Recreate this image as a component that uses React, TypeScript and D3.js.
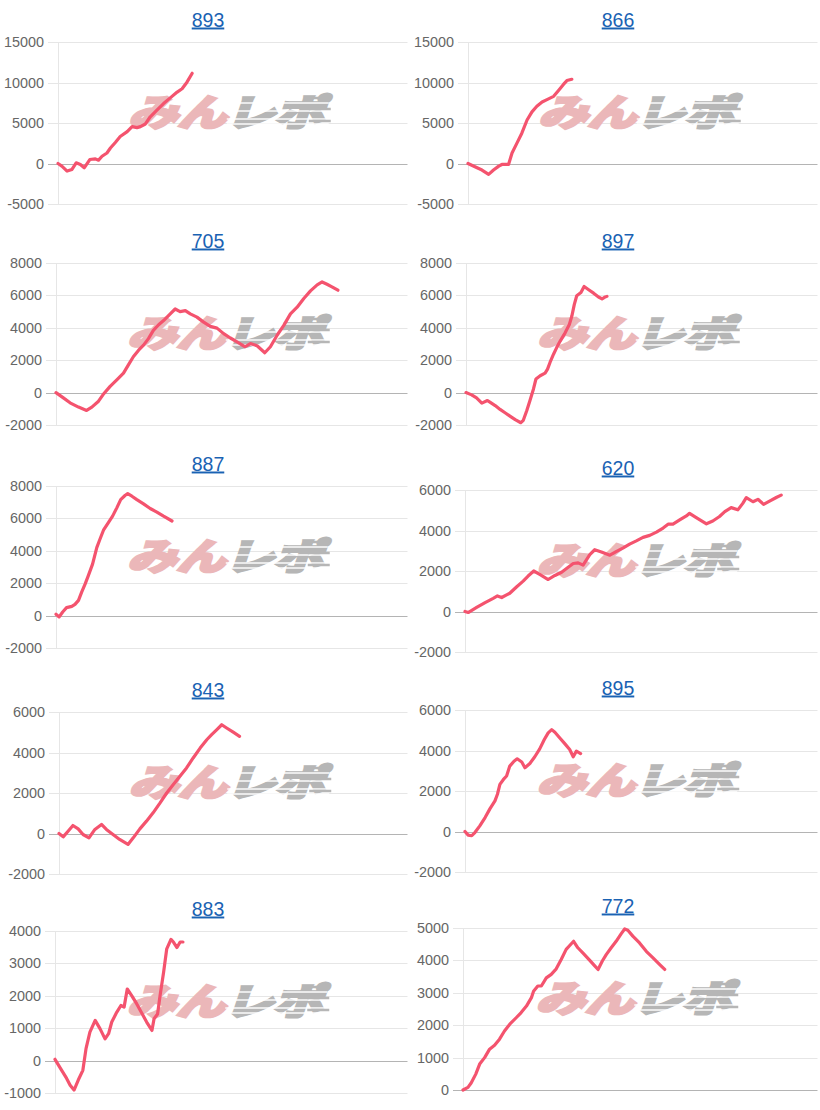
import React from "react";
import * as d3 from "d3";

// ---------- data (x = position along the game axis in %, y = 差枚) ----------
const titles = ["893", "866", "705", "897", "887", "620", "843", "895", "883", "772"];

const s893: [number, number][] = [[0,0],[1.1,-325],[2.6,-935],[4.0,-730],[5.2,80],[6.4,-120],[7.5,-530],[9.1,490],[10.7,570],[11.6,410],[12.6,890],[14.0,1300],[15.0,1910],[16.4,2600],[17.8,3330],[19.8,3940],[21.2,4550],[22.6,4430],[23.6,4550],[25.0,4880],[26.4,5770],[28.3,6590],[30.2,7400],[32.2,8130],[34.1,8820],[35.5,9230],[36.9,10040],[38.4,11140]];
const s866: [number, number][] = [[0,0],[2.6,-530],[4.0,-810],[5.9,-1340],[7.3,-810],[8.8,-325],[9.7,-120],[11.6,-120],[12.6,1300],[14.0,2520],[15.4,3740],[16.9,5370],[18.3,6380],[19.7,7070],[21.2,7600],[22.6,7890],[24.5,8290],[25.9,9020],[27.3,9760],[28.3,10240],[29.7,10400]];
const s705: [number, number][] = [[0,0],[2.1,-325],[4.0,-630],[6.4,-895],[8.7,-1100],[10.2,-895],[12.1,-530],[13.4,-120],[15.4,385],[17.3,790],[19.2,1200],[20.6,1710],[22.0,2215],[23.5,2620],[24.9,2930],[26.3,3330],[27.7,3840],[29.2,4190],[30.6,4450],[32.5,4860],[33.9,5160],[35.3,5000],[36.8,5060],[38.2,4860],[40.1,4660],[42.0,4350],[43.9,4090],[45.8,3980],[47.7,3640],[49.6,3370],[51.5,3130],[53.8,2830],[55.3,3030],[57.2,2890],[59.4,2460],[61.0,2830],[62.9,3540],[64.8,4150],[66.7,4860],[68.6,5270],[70.5,5810],[72.4,6280],[74.3,6650],[75.7,6830],[77.1,6690],[78.5,6530],[80.2,6320]];
const s897: [number, number][] = [[0,0],[1.6,-140],[3.0,-330],[4.5,-650],[6.1,-490],[6.8,-590],[8.3,-800],[9.7,-1040],[11.1,-1245],[12.5,-1450],[14.0,-1670],[15.6,-1860],[16.3,-1710],[17.3,-1100],[18.2,-490],[19.2,225],[19.9,840],[21.1,1040],[22.5,1200],[23.2,1450],[23.9,1860],[24.9,2370],[25.8,2780],[26.8,3180],[28.2,3690],[29.4,4200],[30.1,4710],[30.8,5430],[31.5,5980],[32.7,6180],[33.6,6550],[34.9,6350],[36.3,6140],[37.7,5900],[38.7,5780],[39.4,5880],[40.1,5940]];
const s887: [number, number][] = [[0,80],[0.9,-80],[1.9,225],[3.0,490],[4.5,570],[5.4,690],[6.4,940],[7.3,1450],[8.3,1960],[9.2,2470],[10.4,3180],[11.6,4200],[12.5,4710],[13.5,5270],[14.9,5740],[16.1,6140],[17.3,6650],[18.4,7160],[19.7,7430],[20.4,7530],[21.6,7370],[23.0,7160],[24.9,6900],[26.8,6610],[28.7,6390],[30.6,6140],[33.0,5840]];
const s620: [number, number][] = [[0,0],[0.9,-50],[3.3,200],[5.7,440],[8.0,650],[9.2,770],[10.4,690],[11.8,820],[12.7,900],[14.6,1210],[16.5,1500],[17.9,1750],[19.5,2000],[21.2,1830],[23.6,1580],[25.5,1780],[27.4,1940],[28.8,2120],[30.7,2370],[32.1,2400],[33.5,2290],[35.4,2810],[36.8,3050],[38.7,2940],[41.1,2780],[43.0,2970],[44.9,3140],[46.7,3330],[48.6,3490],[50.5,3660],[52.4,3760],[54.3,3920],[56.2,4120],[57.6,4310],[59.0,4310],[60.9,4520],[62.8,4720],[63.7,4850],[65.6,4640],[68.5,4330],[70.3,4470],[72.2,4690],[73.7,4930],[75.5,5130],[77.4,5020],[78.8,5340],[79.8,5620],[81.7,5420],[83.1,5540],[84.7,5290],[86.4,5450],[88.3,5630],[89.7,5750]];
const s843: [number, number][] = [[0,0],[1.2,-165],[2.6,115],[4.0,395],[5.5,230],[6.9,-50],[8.6,-215],[10.3,200],[12.2,445],[13.6,200],[15.5,-50],[17.4,-295],[19.8,-540],[21.3,-215],[23.2,230],[25.1,610],[27.0,1020],[29.0,1510],[30.9,2000],[32.8,2415],[34.7,2830],[36.6,3240],[38.5,3730],[40.5,4220],[42.4,4630],[43.8,4880],[45.3,5130],[46.7,5370],[48.1,5210],[50.1,4990],[51.8,4800]];
const s895: [number, number][] = [[0,0],[0.9,-180],[1.9,-210],[2.8,-50],[4.2,280],[5.7,690],[7.1,1130],[8.5,1510],[9.2,1840],[9.9,2330],[10.9,2570],[11.8,2740],[12.7,3230],[13.9,3470],[14.8,3590],[16.1,3430],[17.0,3150],[18.4,3360],[19.8,3690],[21.2,4080],[22.5,4540],[23.6,4870],[24.6,5030],[25.5,4900],[26.9,4620],[28.3,4340],[29.7,4050],[30.7,3690],[31.6,3970],[32.8,3850]];
const s883: [number, number][] = [[0,40],[1.9,-300],[3.3,-550],[4.3,-760],[5.4,-910],[6.6,-600],[7.9,-300],[8.8,370],[9.9,880],[11.4,1240],[12.8,980],[14.2,670],[15.2,830],[16.1,1190],[17.5,1490],[18.7,1700],[19.6,1650],[20.5,2210],[21.8,2000],[23.2,1750],[24.6,1470],[26.0,1190],[27.5,930],[28.1,1290],[29.1,1440],[29.8,2000],[30.8,2720],[31.7,3450],[32.9,3740],[33.6,3660],[34.6,3490],[35.5,3660],[36.3,3660]];
const s772: [number, number][] = [[0,0],[1.4,80],[2.3,215],[3.6,490],[4.7,800],[6.1,1000],[7.5,1260],[8.9,1380],[10.3,1570],[11.7,1820],[13.2,2030],[15.0,2230],[16.4,2390],[17.9,2590],[19.3,2850],[19.9,3050],[21.1,3210],[22.1,3210],[23.5,3460],[24.9,3570],[26.3,3740],[27.7,4030],[29.1,4340],[30.1,4460],[31.2,4590],[32.4,4390],[33.8,4230],[35.7,4010],[37.1,3840],[38.1,3720],[39.3,3980],[40.4,4180],[41.8,4390],[43.2,4590],[44.6,4820],[45.6,4970],[46.5,4930],[47.9,4750],[49.8,4540],[51.7,4280],[53.6,4080],[55.5,3870],[56.9,3720]];

const series = [s893, s866, s705, s897, s887, s620, s843, s895, s883, s772];

const ticksA = [-5000, 0, 5000, 10000, 15000];
const ticksB = [-2000, 0, 2000, 4000, 6000, 8000];
const ticksC = [-2000, 0, 2000, 4000, 6000];
const ticksD = [-1000, 0, 1000, 2000, 3000, 4000];
const ticksE = [0, 1000, 2000, 3000, 4000, 5000];
const panelTicks = [ticksA, ticksA, ticksB, ticksB, ticksB, ticksC, ticksC, ticksC, ticksD, ticksE];

const X_DOMAIN: [number, number] = [0, 100];

// ---------- layout ----------
const W = 820;
const H = 1110;
const COL_X = [0, 410];
const layout = [
  { col: 0, top: 0, left: 58 }, { col: 1, top: 0, left: 468 },
  { col: 0, top: 221, left: 56 }, { col: 1, top: 221, left: 466 },
  { col: 0, top: 444, left: 56 }, { col: 1, top: 448, left: 465 },
  { col: 0, top: 670, left: 59 }, { col: 1, top: 668, left: 465 },
  { col: 0, top: 889, left: 55 }, { col: 1, top: 886, left: 463 },
];
const PLOT_TOP = 42;
const PLOT_H = 162;
const FONT = "'Liberation Sans', Arial, Helvetica, sans-serif";
const LINE_COLOR = "#f4536e";

function Watermark({ cx, cy }: { cx: number; cy: number }) {
  const jp = "'Noto Sans CJK JP', 'Noto Sans', sans-serif";
  const pink = "#ebb7b9";
  const gray = "#b6b6b6";
  return (
    <g transform={`translate(${cx},${cy})`}>
      <g transform="scale(1,0.74) skewX(-14)">
        <text x={-2} y={19} textAnchor="end" fontFamily={jp} fontWeight={900} fontSize={50} fill={pink}
          stroke={pink} strokeWidth={3.2} strokeLinejoin="miter" letterSpacing={-1}>
          みん
        </text>
        <text x={-3} y={19} textAnchor="start" fontFamily={jp} fontWeight={900} fontSize={50} fill={gray}
          stroke={gray} strokeWidth={3.2} strokeLinejoin="miter" letterSpacing={-1}>
          レポ
        </text>
      </g>
      {[-9, -1, 7, 12].map((dy, i) => (
        <line key={i} x1={-6} x2={96} y1={dy} y2={dy} stroke="#ffffff" strokeWidth={1.5} opacity={0.95} />
      ))}
      {[-14, -3, 9].map((dy, i) => (
        <line key={"g" + i} x1={76} x2={98} y1={dy} y2={dy} stroke={gray} strokeWidth={2.5} />
      ))}
    </g>
  );
}

function Panel({ idx }: { idx: number }) {
  const L = layout[idx];
  const colX = COL_X[L.col];
  const right = colX + 407.5;
  const top = L.top + PLOT_TOP;
  const bottom = top + PLOT_H;
  const ticks = panelTicks[idx];
  const x = d3.scaleLinear().domain(X_DOMAIN).range([L.left, right]);
  const y = d3.scaleLinear().domain([d3.min(ticks)!, d3.max(ticks)!]).range([bottom, top]);
  const line = d3
    .line<[number, number]>()
    .x((d) => x(d[0]))
    .y((d) => y(d[1]));
  const data = series[idx];
  return (
    <g>
      <text
        x={colX + 208}
        y={L.top + 26.5}
        textAnchor="middle"
        fontFamily={FONT}
        fontSize={19.5}
        fill="#1a62b3"
        textDecoration="underline"
      >
        {titles[idx]}
      </text>
      {ticks.map((t) => (
        <g key={t}>
          <line
            x1={L.left - 10}
            x2={right}
            y1={Math.round(y(t)) + 0.5}
            y2={Math.round(y(t)) + 0.5}
            stroke={t === 0 ? "#b4b4b4" : "#e6e6e6"}
            strokeWidth={1}
          />
          <text
            x={L.left - 14}
            y={y(t)}
            dy="0.35em"
            textAnchor="end"
            fontFamily={FONT}
            fontSize={14.4}
            fill="#666666"
          >
            {t}
          </text>
        </g>
      ))}
      <line x1={L.left + 0.5} x2={L.left + 0.5} y1={top} y2={bottom} stroke="#e6e6e6" strokeWidth={1} />
      <Watermark cx={(L.left + right) / 2} cy={top + 70} />
      <path d={line(data) || ""} fill="none" stroke={LINE_COLOR} strokeWidth={3.2} strokeLinejoin="round" strokeLinecap="round" />
    </g>
  );
}

export default function App() {
  return (
    <svg
      width={W}
      height={H}
      style={{ position: "absolute", left: 0, top: 0, background: "#ffffff" }}
    >
      <rect width={W} height={H} fill="#ffffff" />
      {titles.map((_, i) => (
        <Panel key={i} idx={i} />
      ))}
    </svg>
  );
}
